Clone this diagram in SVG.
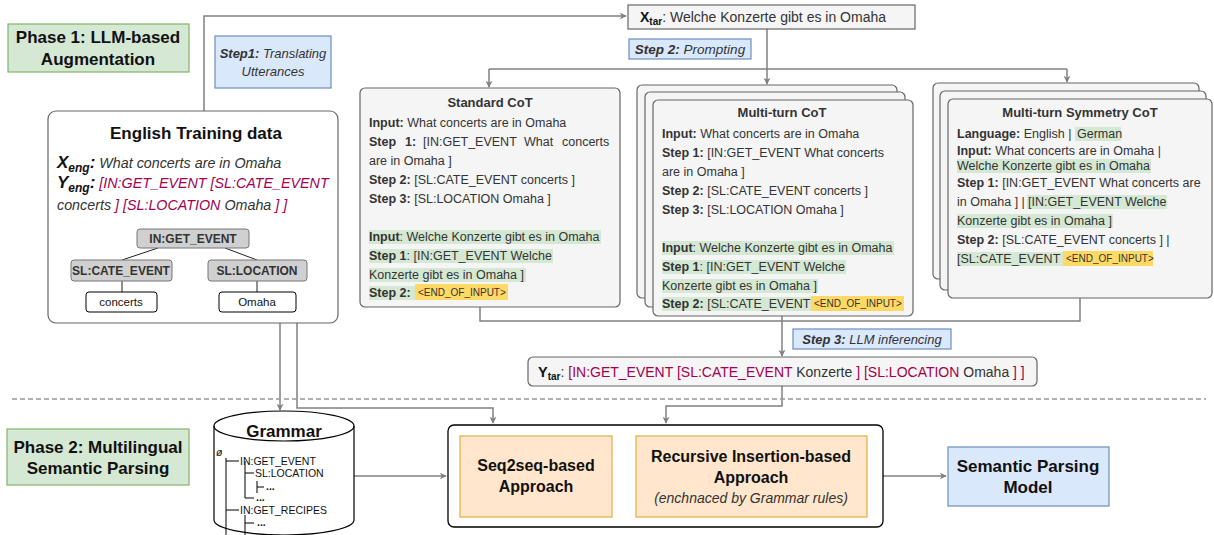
<svg xmlns="http://www.w3.org/2000/svg" width="1214" height="535" viewBox="0 0 1214 535">
<defs>
<marker id="arr" viewBox="0 0 10 10" refX="9" refY="5" markerWidth="7" markerHeight="7" orient="auto" markerUnits="userSpaceOnUse">
<path d="M0,0 L10,5 L0,10 L3,5 Z" fill="#808080"/>
</marker>
<style>
text{font-family:"Liberation Sans",Arial,sans-serif;fill:#333}
.b{font-weight:bold}
.i{font-style:italic}
.t12{font-size:12px}
.tc{font-size:12.5px}
.ph{font-size:17px;font-weight:bold;fill:#111;text-anchor:middle}
.green{fill:#d5e8d4;stroke:#82b366;stroke-width:1.2}
.blue{fill:#dae8fc;stroke:#6c8ebf;stroke-width:1.2}
.cot{fill:#f5f5f5;stroke:#666;stroke-width:1.2}
.hg{fill:#d5e8d4}
.hy{fill:#ffd966}
.conn{fill:none;stroke:#808080;stroke-width:1.5}
.gray{fill:#d0d0d0;stroke:#777;stroke-width:1}
.leaf{fill:#fff;stroke:#000;stroke-width:1}
.orange{fill:#ffe6cc;stroke:#e0b040;stroke-width:1.2}
.mag{fill:#a3004f}
.eoi{font-size:10px;fill:#333}
.gt{font-size:10.5px;fill:#111}
</style>
</defs>

<g id="connectors">
<path class="conn" d="M204,111 V16 H626" marker-end="url(#arr)"/>
<path class="conn" d="M767,29 V84" marker-end="url(#arr)"/>
<path class="conn" d="M489,69 H1067"/>
<path class="conn" d="M489,69 V87" marker-end="url(#arr)"/>
<path class="conn" d="M1067,69 V82" marker-end="url(#arr)"/>
<path class="conn" d="M480,307 V321 H1080 V298"/>
<path class="conn" d="M782,316 V321"/>
<path class="conn" d="M782,321 V356" marker-end="url(#arr)"/>
<path class="conn" d="M782,386 V406 H666 V423" marker-end="url(#arr)"/>
<path class="conn" d="M280,323 V410" marker-end="url(#arr)"/>
<path class="conn" d="M297,323 V408 H493 V423" marker-end="url(#arr)"/>
<path class="conn" d="M354,476 H446" marker-end="url(#arr)"/>
<path class="conn" d="M883,476 H946" marker-end="url(#arr)"/>
<line x1="12" y1="399" x2="1206" y2="399" stroke="#999" stroke-width="1.3" stroke-dasharray="5,3"/>
</g>

<g id="phase1">
<rect class="green" x="8" y="24" width="181" height="48"/>
<text class="ph" x="98" y="43">Phase 1: LLM-based</text>
<text class="ph" x="98" y="65">Augmentation</text>
</g>

<g id="step1">
<rect class="blue" x="215" y="36" width="116" height="52"/>
<text x="273" y="58" text-anchor="middle" font-size="13" class="i"><tspan class="b">Step1:</tspan> Translating</text>
<text x="273" y="76" text-anchor="middle" font-size="13" class="i">Utterances</text>
</g>

<g id="xtar">
<rect x="628" y="5" width="287" height="24" fill="#f5f5f5" stroke="#666" stroke-width="1.2"/>
<text x="640" y="22" font-size="14"><tspan class="b" style="fill:#111">X</tspan><tspan class="b" font-size="10" dy="3" style="fill:#111">tar</tspan><tspan dy="-3">: Welche Konzerte gibt es in Omaha</tspan></text>
</g>

<g id="step2">
<rect class="blue" x="629" y="39" width="122" height="20"/>
<text x="690" y="54" text-anchor="middle" font-size="13.5" class="i"><tspan class="b">Step 2:</tspan> Prompting</text>
</g>

<g id="english">
<rect x="48" y="111" width="290" height="212" rx="8" fill="#fff" stroke="#666" stroke-width="1.2"/>
<text x="196" y="139" text-anchor="middle" font-size="17" class="b" style="fill:#111">English Training data</text>
<text x="57" y="168" class="i" font-size="14.3"><tspan class="b" font-size="17" style="fill:#111">X</tspan><tspan class="b" font-size="12" dy="4" style="fill:#111">eng</tspan><tspan class="b" font-size="17" dy="-4" style="fill:#111">:</tspan> What concerts are in Omaha</text>
<text x="57" y="188" class="i" font-size="14.3"><tspan class="b" font-size="17" style="fill:#111">Y</tspan><tspan class="b" font-size="12" dy="4" style="fill:#111">eng</tspan><tspan class="b" font-size="17" dy="-4" style="fill:#111">:</tspan> <tspan class="mag">[IN:GET_EVENT [SL:CATE_EVENT</tspan></text>
<text x="57" y="210" class="i" font-size="14.3">concerts <tspan class="mag">] [SL:LOCATION</tspan> Omaha <tspan class="mag">] ]</tspan></text>
<g id="tree">
<line x1="158" y1="248" x2="122" y2="260" stroke="#222" stroke-width="1"/>
<line x1="225" y1="248" x2="257" y2="260" stroke="#222" stroke-width="1"/>
<line x1="122" y1="281" x2="122" y2="292" stroke="#222" stroke-width="1"/>
<line x1="257" y1="281" x2="257" y2="292" stroke="#222" stroke-width="1"/>
<rect class="gray" x="137" y="229" width="112" height="19" rx="3"/>
<text x="193" y="243" text-anchor="middle" class="b t12">IN:GET_EVENT</text>
<rect class="gray" x="71" y="260" width="101" height="21" rx="3"/>
<text x="121" y="275" text-anchor="middle" class="b t12">SL:CATE_EVENT</text>
<rect class="gray" x="208" y="260" width="99" height="21" rx="3"/>
<text x="257" y="275" text-anchor="middle" class="b t12">SL:LOCATION</text>
<rect class="leaf" x="86" y="292" width="71" height="20" rx="3"/>
<text x="121" y="306" text-anchor="middle" font-size="11.5" style="fill:#111">concerts</text>
<rect class="leaf" x="219" y="292" width="77" height="20" rx="3"/>
<text x="257" y="306" text-anchor="middle" font-size="11.5" style="fill:#111">Omaha</text>
</g>
</g>

<g id="standard-cot">
<rect class="cot" x="360" y="88" width="260" height="219" rx="5"/>
<text x="490" y="107" text-anchor="middle" font-size="13" class="b">Standard CoT</text>
<rect class="hg" x="369" y="230" width="232" height="14"/>
<rect class="hg" x="369" y="249" width="184" height="14"/>
<rect class="hg" x="369" y="268" width="157" height="14"/>
<rect class="hg" x="369" y="286" width="46" height="14"/>
<rect class="hy" x="415" y="284" width="93" height="16"/>
<g class="tc">
<text x="369" y="127"><tspan class="b">Input:</tspan> What concerts are in Omaha</text>
<text y="146"><tspan x="369" class="b">Step</tspan><tspan x="405" class="b">1:</tspan><tspan x="423">[IN:GET_EVENT</tspan><tspan x="524">What</tspan><tspan x="562">concerts</tspan></text>
<text x="369" y="165">are in Omaha ]</text>
<text x="369" y="184"><tspan class="b">Step 2:</tspan> [SL:CATE_EVENT concerts ]</text>
<text x="369" y="203"><tspan class="b">Step 3:</tspan> [SL:LOCATION Omaha ]</text>
<text x="369" y="241"><tspan class="b">Input</tspan>: Welche Konzerte gibt es in Omaha</text>
<text x="369" y="260"><tspan class="b">Step 1</tspan>: [IN:GET_EVENT Welche</text>
<text x="369" y="279">Konzerte gibt es in Omaha ]</text>
<text x="369" y="297"><tspan class="b">Step 2:</tspan></text>
</g>
<text x="418" y="296" class="eoi">&lt;END_OF_INPUT&gt;</text>
</g>

<g id="multi-turn-cot">
<rect class="cot" x="637" y="85" width="260" height="213" rx="5"/>
<rect class="cot" x="645" y="92" width="260" height="215" rx="5"/>
<rect class="cot" x="653" y="100" width="260" height="216" rx="5"/>
<text x="782" y="117" text-anchor="middle" font-size="13" class="b">Multi-turn CoT</text>
<rect class="hg" x="662" y="241" width="232" height="14"/>
<rect class="hg" x="662" y="260" width="184" height="14"/>
<rect class="hg" x="662" y="279" width="156" height="14"/>
<rect class="hg" x="662" y="297" width="149" height="14"/>
<rect class="hy" x="811" y="296" width="93" height="15"/>
<g class="tc">
<text x="662" y="138"><tspan class="b">Input:</tspan> What concerts are in Omaha</text>
<text x="662" y="157"><tspan class="b">Step 1:</tspan> [IN:GET_EVENT What concerts</text>
<text x="662" y="176">are in Omaha ]</text>
<text x="662" y="195"><tspan class="b">Step 2:</tspan> [SL:CATE_EVENT concerts ]</text>
<text x="662" y="214"><tspan class="b">Step 3:</tspan> [SL:LOCATION Omaha ]</text>
<text x="662" y="252"><tspan class="b">Input</tspan>: Welche Konzerte gibt es in Omaha</text>
<text x="662" y="271"><tspan class="b">Step 1</tspan>: [IN:GET_EVENT Welche</text>
<text x="662" y="290">Konzerte gibt es in Omaha ]</text>
<text x="662" y="308"><tspan class="b">Step 2:</tspan> [SL:CATE_EVENT</text>
</g>
<text x="814" y="307" class="eoi">&lt;END_OF_INPUT&gt;</text>
</g>

<g id="multi-turn-symmetry-cot">
<rect class="cot" x="933" y="83" width="266" height="196" rx="5"/>
<rect class="cot" x="940" y="91" width="266" height="199" rx="5"/>
<rect class="cot" x="948" y="99" width="264" height="199" rx="5"/>
<text x="1080" y="117" text-anchor="middle" font-size="13" class="b">Multi-turn Symmetry CoT</text>
<rect class="hg" x="1075" y="127" width="46" height="14"/>
<rect class="hg" x="957" y="159" width="194" height="14"/>
<rect class="hg" x="1027" y="195" width="140" height="14"/>
<rect class="hg" x="957" y="214" width="156" height="14"/>
<rect class="hg" x="957" y="252" width="106" height="14"/>
<rect class="hy" x="1063" y="251" width="90" height="15"/>
<g class="tc">
<text x="957" y="138"><tspan class="b">Language:</tspan> English | <tspan x="1077">German</tspan></text>
<text x="957" y="155"><tspan class="b">Input:</tspan> What concerts are in Omaha |</text>
<text x="957" y="170">Welche Konzerte gibt es in Omaha</text>
<text x="957" y="187"><tspan class="b">Step 1:</tspan> [IN:GET_EVENT What concerts are</text>
<text y="206"><tspan x="957">in Omaha ] |</tspan><tspan x="1028">[IN:GET_EVENT Welche</tspan></text>
<text x="957" y="225">Konzerte gibt es in Omaha ]</text>
<text x="957" y="244"><tspan class="b">Step 2:</tspan> [SL:CATE_EVENT concerts ] |</text>
<text x="957" y="263">[SL:CATE_EVENT</text>
</g>
<text x="1066" y="262" class="eoi">&lt;END_OF_INPUT&gt;</text>
</g>

<g id="step3">
<rect class="blue" x="793" y="329" width="158" height="20"/>
<text x="872" y="344" text-anchor="middle" font-size="13" class="i"><tspan class="b">Step 3:</tspan> LLM inferencing</text>
</g>

<g id="ytar">
<rect x="528" y="357" width="509" height="29" rx="5" fill="#f5f5f5" stroke="#666" stroke-width="1.2"/>
<text x="538" y="377" font-size="14"><tspan class="b" font-size="14.5" style="fill:#111">Y</tspan><tspan class="b" font-size="10" dy="3" style="fill:#111">tar</tspan><tspan dy="-3">: </tspan><tspan class="mag">[IN:GET_EVENT [SL:CATE_EVENT</tspan> Konzerte <tspan class="mag">] [SL:LOCATION</tspan> Omaha <tspan class="mag">] ]</tspan></text>
</g>

<g id="phase2">
<rect class="green" x="7" y="429" width="182" height="56"/>
<text class="ph" x="98" y="453">Phase 2: Multilingual</text>
<text class="ph" x="98" y="474">Semantic Parsing</text>
</g>

<g id="grammar">
<path d="M214,426 A70,15 0 0 1 354,426 L354,520 A70,15 0 0 1 214,520 Z" fill="#fff" stroke="#000" stroke-width="1.2"/>
<path d="M214,426 A70,15 0 0 0 354,426" fill="none" stroke="#000" stroke-width="1.2"/>
<text x="284" y="437" text-anchor="middle" font-size="17" class="b" style="fill:#111">Grammar</text>
<g stroke="#000" stroke-width="1" fill="none">
<path d="M226,458 V535 M226,461 H239 M245,461 V498 M245,473 H254 M257,481 V493 M257,487 H264 M245,498 H254 M226,510 H239 M245,515 V535 M245,523 H254"/>
</g>
<text x="216" y="456" class="gt i">ø</text>
<text x="240" y="465" class="gt">IN:GET_EVENT</text>
<text x="255" y="477" class="gt">SL:LOCATION</text>
<text x="266" y="490" class="gt b">...</text>
<text x="256" y="501" class="gt b">...</text>
<text x="240" y="514" class="gt">IN:GET_RECIPES</text>
<text x="257" y="526" class="gt b">...</text>
</g>

<g id="approaches">
<rect x="448" y="425" width="435" height="102" rx="6" fill="#fff" stroke="#000" stroke-width="1.3"/>
<g id="seq2seq">
<rect class="orange" x="460" y="436" width="152" height="81"/>
<text x="536" y="471" text-anchor="middle" font-size="16" class="b" style="fill:#111">Seq2seq-based</text>
<text x="536" y="492" text-anchor="middle" font-size="16" class="b" style="fill:#111">Approach</text>
</g>
<g id="recursive">
<rect class="orange" x="636" y="436" width="231" height="81"/>
<text x="751" y="462" text-anchor="middle" font-size="16" class="b" style="fill:#111">Recursive Insertion-based</text>
<text x="751" y="483" text-anchor="middle" font-size="16" class="b" style="fill:#111">Approach</text>
<text x="751" y="503" text-anchor="middle" font-size="14" class="i">(enchnaced by Grammar rules)</text>
</g>
</g>

<g id="semantic-parsing-model">
<rect class="blue" x="948" y="447" width="161" height="59"/>
<text x="1028" y="472" text-anchor="middle" font-size="17" class="b" style="fill:#111">Semantic Parsing</text>
<text x="1028" y="493" text-anchor="middle" font-size="17" class="b" style="fill:#111">Model</text>
</g>
</svg>
